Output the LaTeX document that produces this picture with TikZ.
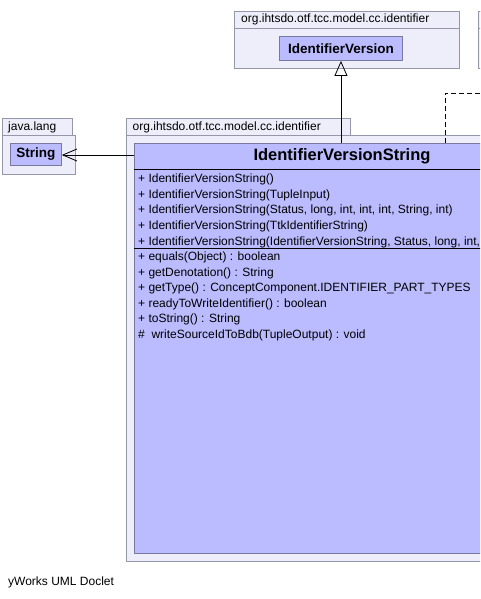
\documentclass[tikz,border=0pt]{standalone}
\usepackage{fontspec}
\setmainfont{Liberation Sans}
\usepackage{tikz}
\usetikzlibrary{arrows.meta}

\definecolor{pkgfill}{RGB}{238,238,250}
\definecolor{pkgline}{RGB}{150,150,170}
\definecolor{clsfill}{RGB}{187,187,255}
\definecolor{clsline}{RGB}{120,120,160}

\tikzset{
    pkg/.style={draw=pkgline, fill=pkgfill, line width=0.8pt},
    cls/.style={draw=clsline, fill=clsfill, line width=0.9pt, inner sep=0pt},
    pkgname/.style={anchor=west, inner sep=0pt, font=\fontsize{12}{14}\selectfont},
    clsname/.style={inner sep=0pt, font=\fontsize{13.5}{16}\bfseries\selectfont},
    member/.style={anchor=base west, inner sep=0pt, font=\fontsize{12}{14}\selectfont},
}

\begin{document}
\begin{tikzpicture}[x=1pt, y=-1pt]
    \useasboundingbox (0,0) rectangle (480,599);
    \clip (0,0) rectangle (480,599);

    % top package
    \draw[pkg] (234,11) rectangle (459,68);
    \draw[pkg] (234,11) rectangle (459,28);
    \node[pkgname] (toppkg) at (241,19.5) {org.ihtsdo.otf.tcc.model.cc.identifier};
    \node[cls, anchor=north west, minimum width=123pt, minimum height=24pt] (iv) at (279,36) {};
    \node[clsname] at (iv.center) {IdentifierVersion};

    % package cut at the right edge
    \draw[pkg] (478,11) rectangle (520,68);
    \draw[pkg] (478,11) rectangle (520,28);

    % java.lang
    \draw[pkg] (2,118) rectangle (72,135);
    \draw[pkg] (2,135) rectangle (75,174);
    \node[pkgname] (langpkg) at (8,127) {java.lang};
    \node[cls, anchor=north west, minimum width=51pt, minimum height=22pt] (str) at (10,143) {};
    \node[clsname] at (str.center) {String};

    % main package
    \draw[pkg] (126,118) rectangle (350,135);
    \draw[pkg] (126,135) rectangle (560,561);
    \node[pkgname] (mainpkg) at (132.5,127) {org.ihtsdo.otf.tcc.model.cc.identifier};
    \node[cls, anchor=north west, minimum width=416pt, minimum height=410pt] (ivs) at (134,143) {};
    \node[clsname, font=\fontsize{16.5}{19}\bfseries\selectfont] (ivstitle) at (342,156.5) {IdentifierVersionString};
    \draw[black, line width=0.9pt] (ivs.west |- 0,169) -- (ivs.east |- 0,169);
    \draw[black, line width=0.9pt] (ivs.west |- 0,248) -- (ivs.east |- 0,248);

    \foreach \txt [count=\i from 0] in {
        {+ IdentifierVersionString()},
        {+ IdentifierVersionString(TupleInput)},
        {+ IdentifierVersionString(Status, long, int, int, int, String, int)},
        {+ IdentifierVersionString(TtkIdentifierString)},
        {+ IdentifierVersionString(IdentifierVersionString, Status, long, int, int, int, String, int)}}
        \node[member] at (138,182.5+15.7*\i) {\txt};

    \foreach \txt [count=\i from 0] in {
        {+ equals(Object) : boolean},
        {+ getDenotation() : String},
        {+ getType() : ConceptComponent.IDENTIFIER\_PART\_TYPES},
        {+ readyToWriteIdentifier() : boolean},
        {+ toString() : String},
        {\#\ \ writeSourceIdToBdb(TupleOutput) : void}}
        \node[member] at (138,260.5+15.5*\i) {\txt};

    % connectors
    \draw[line width=0.8pt, -{Triangle[open, length=15pt, width=13pt]}] (iv.south |- ivs.north) -- (iv.south);
    \draw[line width=0.8pt, -{Straight Barb[length=14pt, width=12pt]}] (ivs.west |- 0,155) -- (str.east |- 0,155);
    \coordinate (depturn) at (445,93);
    \coordinate (depend) at (520,93);
    \draw[line width=0.8pt, dash pattern=on 5pt off 3pt] (depturn |- ivs.north) -- (depturn) -- (depend);

    \node[pkgname] (doclet) at (8,582) {yWorks UML Doclet};
\end{tikzpicture}
\end{document}
